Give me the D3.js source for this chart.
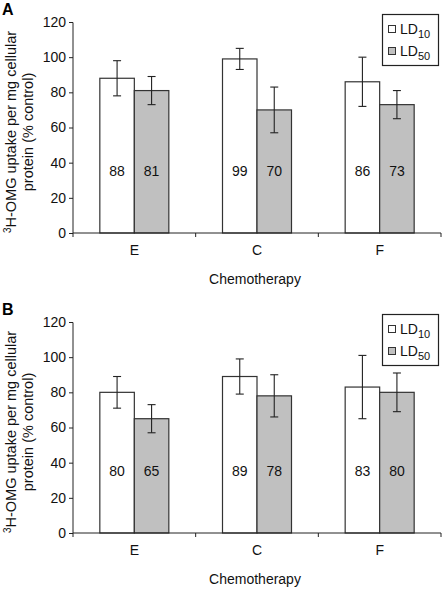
<!DOCTYPE html>
<html><head><meta charset="utf-8">
<script src="https://cdn.jsdelivr.net/npm/d3@7"></script>
<style>body{margin:0;background:#fff}svg{display:block}text{font-family:"Liberation Sans",Arial,sans-serif}</style>
</head><body>
<svg id="c" width="448" height="592"></svg>
<script>
const categories = ["E","C","F"];
const seriesNames = ["10","50"];
const panelA_LD10 = [88, 99, 86];
const panelA_LD50 = [81, 70, 73];
const panelA_err10 = [10, 6, 14];
const panelA_err50 = [8, 13, 8];
const panelB_LD10 = [80, 89, 83];
const panelB_LD50 = [65, 78, 80];
const panelB_err10 = [9, 10, 18];
const panelB_err50 = [8, 12, 11];
const yTicks = [0, 20, 40, 60, 80, 100, 120];
const panels = [
  {label:"A", top:0, v:[panelA_LD10, panelA_LD50], e:[panelA_err10, panelA_err50]},
  {label:"B", top:300, v:[panelB_LD10, panelB_LD50], e:[panelB_err10, panelB_err50]}
];
const fills = ["#ffffff", "#c0c0c0"];
const svg = d3.select("#c");

panels.forEach(p => {
  const g = svg.append("g").attr("transform", `translate(0,${p.top})`);
  const y = d3.scaleLinear().domain([0,120]).range([233,22]);
  const x = d3.scaleBand().domain(categories).range([73,441]).paddingInner(0).paddingOuter(0);
  const xs = d3.scaleBand().domain([0,1]).range([0,69]);
  const off = (x.bandwidth()-69)/2;

  g.append("text").attr("x",2).attr("y",15).attr("font-size",16).attr("font-weight","bold").text(p.label);

  // bars
  categories.forEach((c,i) => {
    [0,1].forEach(s => {
      const val = p.v[s][i], err = p.e[s][i];
      const bx = x(c)+off+xs(s);
      g.append("rect").attr("x",bx).attr("y",y(val)).attr("width",xs.bandwidth()).attr("height",y(0)-y(val))
        .attr("fill",fills[s]).attr("stroke","#333").attr("stroke-width",1.2);
      const cx = bx + xs.bandwidth()/2;
      g.append("line").attr("x1",cx).attr("x2",cx).attr("y1",y(val+err)).attr("y2",y(val-err)).attr("stroke","#222").attr("stroke-width",1.1);
      [val+err, val-err].forEach(t => g.append("line").attr("x1",cx-4).attr("x2",cx+4).attr("y1",y(t)).attr("y2",y(t)).attr("stroke","#222").attr("stroke-width",1.1));
      g.append("text").attr("x",cx).attr("y",y(35)+5).attr("text-anchor","middle").attr("font-size",14).attr("fill","#111").text(val);
    });
  });

  // y axis
  const ya = g.append("g").attr("transform","translate(73,0)")
    .call(d3.axisLeft(y).tickValues(yTicks).tickSize(4).tickPadding(3).tickFormat(d3.format("d")));
  ya.selectAll("text").attr("font-size",14).attr("fill","#111").attr("font-family","Liberation Sans, Arial, sans-serif");
  ya.selectAll("line,path").attr("stroke","#222");
  ya.select(".domain").attr("d","M-4,22.5H0V233");

  // x axis
  const xa = g.append("g").attr("transform","translate(0,233)")
    .call(d3.axisBottom(x).tickSize(0).tickPadding(14));
  xa.select(".domain").attr("stroke","#222").attr("d","M73,0H441");
  xa.selectAll("text").attr("font-size",14).attr("fill","#111").attr("font-family","Liberation Sans, Arial, sans-serif").attr("dy","0.71em").attr("y",12);
  const bounds = [...categories.map(c=>x(c)), x.range()[1]];
  bounds.forEach(b => xa.append("line").attr("x1",b).attr("x2",b).attr("y1",0).attr("y2",4).attr("stroke","#222"));

  g.append("text").attr("x",255).attr("y",284).attr("text-anchor","middle").attr("font-size",14).attr("fill","#111").text("Chemotherapy");

  // y title
  const yt = g.append("text").attr("transform","translate(0,132) rotate(-90)").attr("text-anchor","middle").attr("font-size",14.5).attr("fill","#111");
  const l1 = yt.append("tspan").attr("x",0).attr("y",16);
  l1.append("tspan").attr("font-size",10).attr("dy",-5).text("3");
  l1.append("tspan").attr("dy",5).text("H-OMG uptake per mg cellular");
  yt.append("tspan").attr("x",0).attr("y",33).text("protein (% control)");

  // legend
  const lg = g.append("g");
  lg.append("rect").attr("x",382.5).attr("y",14.5).attr("width",56).attr("height",51).attr("fill","#fff").attr("stroke","#222").attr("stroke-width",1.2);
  seriesNames.forEach((n,s) => {
    const cy = 29 + s*22;
    lg.append("rect").attr("x",388.5).attr("y",cy-3.5).attr("width",7).attr("height",7).attr("fill",fills[s]).attr("stroke","#333");
    const t = lg.append("text").attr("x",400).attr("y",cy+5).attr("font-size",14).attr("fill","#111");
    t.append("tspan").text("LD");
    t.append("tspan").attr("font-size",11).attr("dy",4).text(n);
  });
});
</script>
</body></html>
